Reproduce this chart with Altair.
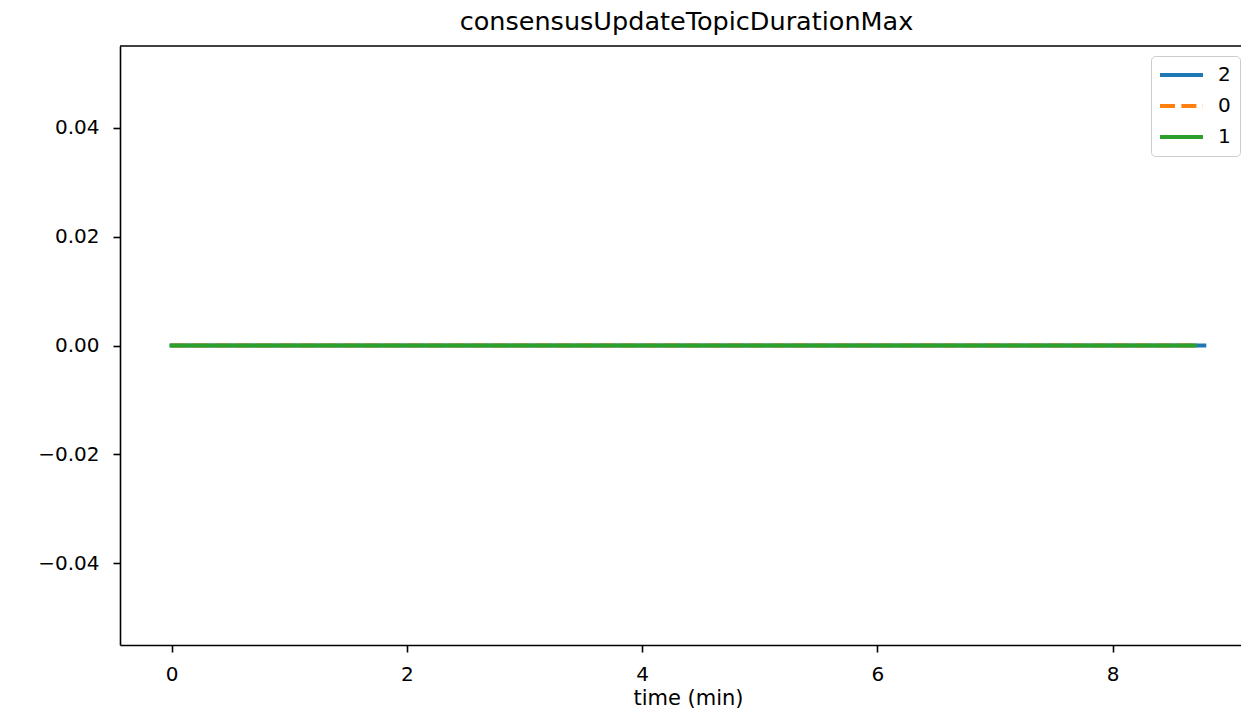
import altair as alt
import pandas as pd

# series data (time in minutes, value)
t_2 = [0.0, 0.5, 1.0, 1.5, 2.0, 2.5, 3.0, 3.5, 4.0, 4.5, 5.0, 5.5, 6.0, 6.5, 7.0, 7.5, 8.0, 8.5, 8.78]
v_2 = [0.0] * len(t_2)
t_0 = [0.0, 0.5, 1.0, 1.5, 2.0, 2.5, 3.0, 3.5, 4.0, 4.5, 5.0, 5.5, 6.0, 6.5, 7.0, 7.5, 8.0, 8.5, 8.70]
v_0 = [0.0] * len(t_0)
t_1 = [0.0, 0.5, 1.0, 1.5, 2.0, 2.5, 3.0, 3.5, 4.0, 4.5, 5.0, 5.5, 6.0, 6.5, 7.0, 7.5, 8.0, 8.5, 8.70]
v_1 = [0.0] * len(t_1)

series_order = ["2", "0", "1"]
series_colors = ["#1f77b4", "#ff7f0e", "#2ca02c"]
series_dash = [[1, 0], [15, 6.4], [1, 0]]
x_ticks = [0, 2, 4, 6, 8]
y_ticks = [-0.04, -0.02, 0.0, 0.02, 0.04]

frames = []
for name, t, v in [("2", t_2, v_2), ("0", t_0, v_0), ("1", t_1, v_1)]:
    frames.append(pd.DataFrame({"time": t, "value": v, "series": name}))
df = pd.concat(frames, ignore_index=True)

FONT = "DejaVu Sans"
W = 1121
H = 599

color_scale = alt.Scale(domain=series_order, range=series_colors)
dash_scale = alt.Scale(domain=series_order, range=series_dash)

legend = alt.Legend(
    title=None,
    orient="none",
    legendX=1031,
    legendY=10,
    symbolType="M-2,0H6.6",
    symbolSize=100,
    symbolStrokeWidth=4,
    labelFontSize=20,
    labelFont=FONT,
    labelColor="black",
    labelOffset=38,
    rowPadding=11,
    padding=9,
    fillColor="white",
    strokeColor="#cccccc",
    cornerRadius=4,
)

base = alt.Chart(df).encode(
    x=alt.X(
        "time:Q",
        title="time (min)",
        scale=alt.Scale(domain=[-0.439, 9.092], nice=False, zero=False),
        axis=alt.Axis(values=x_ticks, format="d", grid=False, titleX=568),
    ),
    y=alt.Y(
        "value:Q",
        title=None,
        scale=alt.Scale(domain=[-0.055, 0.055], nice=False, zero=False),
        axis=alt.Axis(values=y_ticks, format=".2f", grid=False),
    ),
    color=alt.Color("series:N", scale=color_scale, sort=series_order, legend=legend),
    strokeDash=alt.StrokeDash("series:N", scale=dash_scale, sort=series_order, legend=legend),
)

top_spine = (
    alt.Chart(pd.DataFrame({"k": [0]}))
    .mark_rule(color="black", strokeWidth=1.6)
    .encode(x=alt.value(0), x2=alt.value(W), y=alt.value(0))
)

layers = [top_spine]
for name in series_order:
    cap = "butt" if name == "0" else "square"
    layers.append(
        base.transform_filter(alt.datum.series == name).mark_line(strokeWidth=4, strokeCap=cap)
    )

chart = (
    alt.layer(*layers)
    .properties(
        width=W,
        height=H,
        autosize=alt.AutoSizeParams(type="none"),
        padding={"left": 112, "top": 38, "right": 0, "bottom": 63},
        title=alt.TitleParams(
            "consensusUpdateTopicDurationMax",
            font=FONT,
            fontSize=25.5,
            fontWeight="normal",
            color="black",
            anchor="middle",
            baseline="bottom",
            offset=-15,
            dx=6,
        ),
    )
    .configure_view(stroke=None)
    .configure_axis(
        labelFont=FONT,
        labelFontSize=20,
        labelColor="black",
        titleFont=FONT,
        titleFontSize=21,
        titleFontWeight="normal",
        titleColor="black",
        domainColor="black",
        domainWidth=1.6,
        tickColor="black",
        tickWidth=1.6,
        tickSize=7,
    )
    .configure_axisX(labelPadding=12, titlePadding=3)
    .configure_axisY(labelPadding=14)
)

chart.save("out.html", embed_options={"renderer": "svg", "actions": False})
